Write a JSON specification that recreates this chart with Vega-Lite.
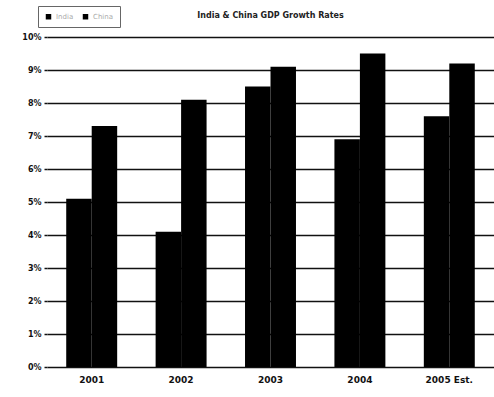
{
  "$schema": "https://vega.github.io/schema/vega-lite/v6.json",
  "width": 447,
  "height": 330,
  "autosize": {"type": "none"},
  "padding": {"left": 47, "top": 37, "right": 0, "bottom": 30},
  "background": "white",
  "title": {
    "text": "India & China GDP Growth Rates",
    "anchor": "middle",
    "fontSize": 8,
    "fontWeight": "bold",
    "font": "DejaVu Sans",
    "color": "#222",
    "offset": 0,
    "dy": 14
  },
  "data": {
    "values": [
      {"year": "2001", "country": "India", "rate": 5.1},
      {"year": "2001", "country": "China", "rate": 7.3},
      {"year": "2002", "country": "India", "rate": 4.1},
      {"year": "2002", "country": "China", "rate": 8.1},
      {"year": "2003", "country": "India", "rate": 8.5},
      {"year": "2003", "country": "China", "rate": 9.1},
      {"year": "2004", "country": "India", "rate": 6.9},
      {"year": "2004", "country": "China", "rate": 9.5},
      {"year": "2005 Est.", "country": "India", "rate": 7.6},
      {"year": "2005 Est.", "country": "China", "rate": 9.2}
    ]
  },
  "mark": {"type": "bar", "color": "black"},
  "encoding": {
    "x": {
      "field": "year",
      "type": "nominal",
      "scale": {"paddingInner": 0.43, "paddingOuter": 0.215},
      "axis": {
        "title": null,
        "labelAngle": 0,
        "labelFont": "DejaVu Sans",
        "labelFontSize": 9,
        "labelFontWeight": "bold",
        "labelColor": "#111",
        "labelPadding": 8,
        "ticks": false,
        "domain": false,
        "grid": false
      }
    },
    "xOffset": {"field": "country", "type": "nominal", "sort": ["India", "China"], "scale": {"paddingInner": 0}},
    "y": {
      "field": "rate",
      "type": "quantitative",
      "scale": {"domain": [0, 10], "nice": false},
      "axis": {
        "title": null,
        "values": [0, 1, 2, 3, 4, 5, 6, 7, 8, 9, 10],
        "labelExpr": "datum.value + '%'",
        "labelFont": "DejaVu Sans",
        "labelFontSize": 8,
        "labelFontWeight": "bold",
        "labelColor": "#111",
        "labelPadding": 3,
        "ticks": true,
        "tickSize": 3,
        "tickColor": "#111",
        "tickWidth": 1.5,
        "domain": false,
        "grid": true,
        "gridColor": "#111",
        "gridWidth": 1.5,
        "gridOpacity": 1
      }
    },
    "color": {
      "field": "country",
      "type": "nominal",
      "sort": ["India", "China"],
      "scale": {"domain": ["India", "China"], "range": ["black", "black"]},
      "legend": {
        "title": null,
        "orient": "none",
        "legendX": -9,
        "legendY": -31,
        "direction": "horizontal",
        "symbolType": "square",
        "symbolSize": 30,
        "labelFontSize": 7,
        "labelColor": "#aaa",
        "labelFont": "DejaVu Sans",
        "columnPadding": 8,
        "padding": 7,
        "strokeColor": "#666"
      }
    }
  },
  "config": {"view": {"stroke": null}}
}
